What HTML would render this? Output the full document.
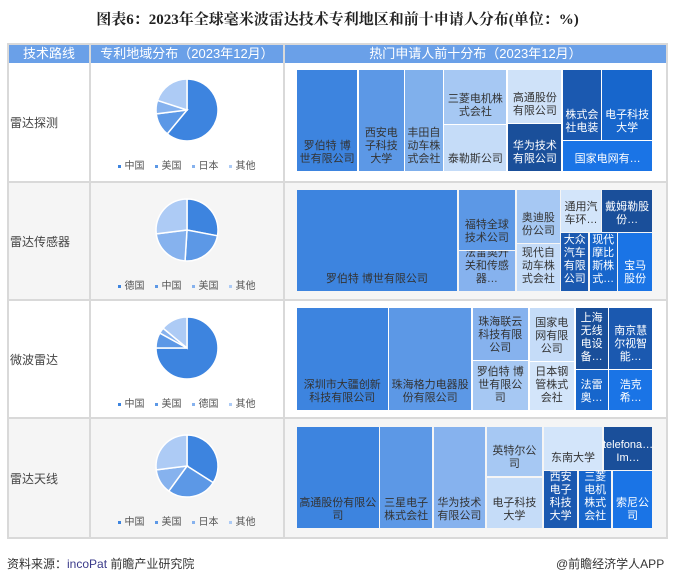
<!DOCTYPE html>
<html><head><meta charset="utf-8">
<style>
body{margin:0;width:675px;height:584px;background:#fff;font-family:"Liberation Sans","Noto Sans CJK SC",sans-serif;position:relative;overflow:hidden}
.abs{position:absolute}
.title{left:0;width:675px;top:8px;text-align:center;font-size:15px;font-weight:bold;color:#222;font-family:"Liberation Serif","Noto Serif CJK SC",serif}
.hdr{top:45px;height:18px;background:#6aa0e8;color:#fff;font-size:13px;line-height:18px;text-align:center}
.lbl{left:10px;font-size:12px;color:#444}
.cell{position:absolute;display:flex;align-items:flex-end;justify-content:center;text-align:center;font-size:11px;line-height:13px;box-sizing:border-box;padding:0 2px 5px;overflow:hidden}
.leg{font-size:10px;color:#555;text-align:center;left:90px;width:193px}
.leg span{margin:0 5px}
.leg i{display:inline-block;width:3px;height:3px;margin-right:4px;vertical-align:middle}
</style></head><body>
<div class="abs title">图表6：2023年全球毫米波雷达技术专利地区和前十申请人分布(单位：%)</div>
<div class="abs" style="left:7px;top:43px;width:661px;height:496px;background:#d9d9d9"></div>
<div class="abs hdr" style="left:9px;width:80px">技术路线</div>
<div class="abs hdr" style="left:91px;width:192px">专利地域分布（2023年12月）</div>
<div class="abs hdr" style="left:285px;width:381px">热门申请人前十分布（2023年12月）</div>
<div id="rows"></div>
<svg class="abs" style="left:0;top:0" width="675" height="584" id="pies"></svg>
<div id="tm"></div>
<div class="abs" style="left:7px;top:555px;font-size:12px;color:#333">资料来源：<span style="color:#3a3a8a">incoPat</span> 前瞻产业研究院</div>
<div class="abs" style="left:556px;top:555px;font-size:12px;color:#333">@前瞻经济学人APP</div>
<script>
const techLabels=["雷达探测","雷达传感器","微波雷达","雷达天线"];
const pieCats=[["中国","美国","日本","其他"],["德国","中国","美国","其他"],["中国","美国","德国","其他"],["中国","美国","日本","其他"]];
const pieVals=[[61,12,7,20],[28,23,22,27],[75,8,3,14],[34,26,13,27]];
const pieColors=["#3d84df","#5c98e6","#86b2ee","#adcbf5"];
const rowTops=[63,183,301,419];
const rowH=[118,116,116,118];
const rowBg=["#fff","#f5f5f5","#fff","#f5f5f5"];
const tmCells=[
[["罗伯特 博世有限公司",0,0,.17,1,"#3d84df","#333"],["西安电子科技大学",.175,0,.30,1,"#5c98e6","#333"],["丰田自动车株式会社",.305,0,.41,1,"#80b0ec","#333"],["三菱电机株式会社",.415,0,.59,.53,"#a6c8f3","#333"],["泰勒斯公司",.415,.545,.59,1,"#c5dcf8","#333"],["高通股份有限公司",.595,0,.745,.52,"#cfe2f9","#333"],["华为技术有限公司",.595,.535,.745,1,"#1a4f9a","#fff"],["株式会社电装",.75,0,.855,.69,"#1b59b0","#fff"],["电子科技大学",.86,0,1,.69,"#1766cc","#fff"],["国家电网有…",.75,.70,1,1,"#1a74e6","#fff"]],
[["罗伯特 博世有限公司",0,0,.45,1,"#3d84df","#333"],["福特全球技术公司",.455,0,.615,.59,"#5c98e6","#333"],["法雷奥开关和传感器…",.455,.60,.615,1,"#86b2ee","#333"],["奥迪股份公司",.62,0,.74,.52,"#a6c8f3","#333"],["现代自动车株式会社",.62,.53,.74,1,"#c5dcf8","#333"],["通用汽车环…",.745,0,.855,.42,"#d3e5fa","#333"],["戴姆勒股份…",.86,0,1,.42,"#1a4f9a","#fff"],["大众汽车有限公司",.745,.43,.82,1,"#1b59b0","#fff"],["现代摩比斯株式…",.825,.43,.9,1,"#1766cc","#fff"],["宝马股份",.905,.43,1,1,"#1a74e6","#fff"]],
[["深圳市大疆创新科技有限公司",0,0,.255,1,"#3d84df","#333"],["珠海格力电器股份有限公司",.26,0,.49,1,"#5c98e6","#333"],["珠海联云科技有限公司",.495,0,.65,.51,"#86b2ee","#333"],["罗伯特 博世有限公司",.495,.52,.65,1,"#a6c8f3","#333"],["国家电网有限公司",.655,0,.78,.52,"#c5dcf8","#333"],["日本钢管株式会社",.655,.53,.78,1,"#d3e5fa","#333"],["上海无线电设备…",.785,0,.875,.6,"#1a4f9a","#fff"],["南京慧尔视智能…",.88,0,1,.6,"#1b59b0","#fff"],["法雷奥…",.785,.61,.875,1,"#1766cc","#fff"],["浩克希…",.88,.61,1,1,"#1a74e6","#fff"]],
[["高通股份有限公司",0,0,.23,1,"#3d84df","#333"],["三星电子株式会社",.235,0,.38,1,"#5c98e6","#333"],["华为技术有限公司",.385,0,.53,1,"#86b2ee","#333"],["英特尔公司",.535,0,.69,.49,"#a6c8f3","#333"],["电子科技大学",.535,.50,.69,1,"#c5dcf8","#333"],["东南大学",.695,0,.86,.43,"#d3e5fa","#333"],["telefona…Im…",.865,0,1,.43,"#1a4f9a","#fff"],["西安电子科技大学",.695,.44,.79,1,"#1b59b0","#fff"],["三菱电机株式会社",.795,.44,.885,1,"#1766cc","#fff"],["索尼公司",.89,.44,1,1,"#1a74e6","#fff"]]
];
const tmTop=[70,190,308,427],tmH=[101,101,102,101],tmX=297,tmW=355;
const rows=document.getElementById('rows');
for(let r=0;r<4;r++){
  const d=document.createElement('div');d.className='abs';
  
  
  d.style.cssText=`left:9px;top:${rowTops[r]}px;width:657px;height:${rowH[r]}px;background:${rowBg[r]}`;
  rows.appendChild(d);
  [89,283].forEach((x,i)=>{const v=document.createElement('div');v.className='abs';
    
    
    v.style.cssText=`left:${x}px;top:${rowTops[r]}px;width:2px;height:${rowH[r]}px;background:#d9d9d9`;rows.appendChild(v);});
  const l=document.createElement('div');l.className='abs lbl';
  
  
  l.style.top=(rowTops[r]+rowH[r]/2-8)+'px';l.textContent=techLabels[r];rows.appendChild(l);
  const lg=document.createElement('div');lg.className='abs leg';
  
  
  lg.style.top=(rowTops[r]+94)+'px';
  lg.innerHTML=pieCats[r].map((c,i)=>`<span><i style="background:${pieColors[i]}"></i>${c}</span>`).join('');
  rows.appendChild(lg);
  const svg=document.getElementById('pies');const cx=187,cy=rowTops[r]+47,R=31;
  const tot=pieVals[r].reduce((a,b)=>a+b,0);let a0=-Math.PI/2;
  pieVals[r].forEach((v,i)=>{const a1=a0+v/tot*2*Math.PI;
    const p=document.createElementNS('http://www.w3.org/2000/svg','path');
    const la=(a1-a0)>Math.PI?1:0;
    p.setAttribute('d',`M${cx},${cy}L${cx+R*Math.cos(a0)},${cy+R*Math.sin(a0)}A${R},${R} 0 ${la} 1 ${cx+R*Math.cos(a1)},${cy+R*Math.sin(a1)}Z`);
    p.setAttribute('fill',pieColors[i]);p.setAttribute('stroke','#fff');p.setAttribute('stroke-width','1.5');
    
    
    svg.appendChild(p);a0=a1;});
  const tm=document.getElementById('tm');
  tmCells[r].forEach(c=>{const e=document.createElement('div');e.className='cell';
    
    
    const x=tmX+c[1]*tmW,y=tmTop[r]+c[2]*tmH[r],w=(c[3]-c[1])*tmW,h=(c[4]-c[2])*tmH[r];
    e.style.cssText+=`left:${x}px;top:${y}px;width:${w}px;height:${h}px;background:${c[5]};color:${c[6]}`;
    e.textContent=c[0];tm.appendChild(e);});
}
</script>
</body></html>
